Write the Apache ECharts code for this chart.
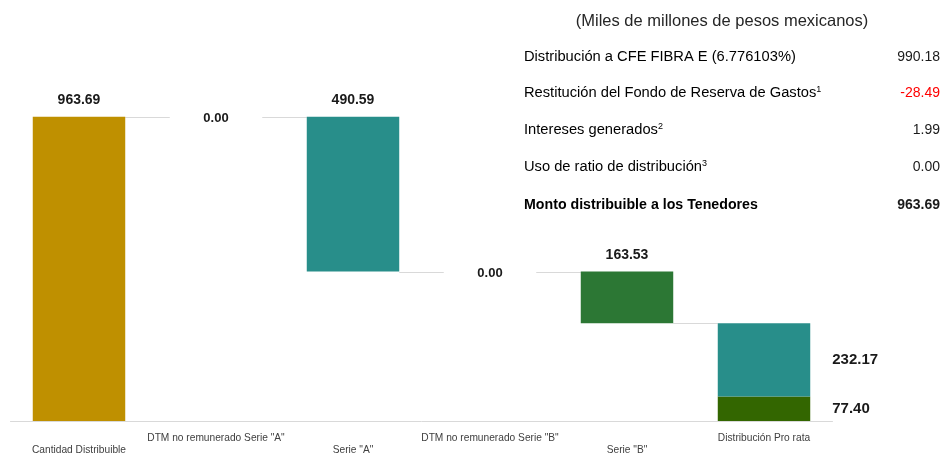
<!DOCTYPE html>
<html><head><meta charset="utf-8">
<script src="https://cdn.jsdelivr.net/npm/echarts@6/dist/echarts.min.js"></script>
<style>html,body{margin:0;padding:0;background:#fff}#c{width:942px;height:453px}</style>
</head><body><div id="c"></div>
<script>
const categories = ['Cantidad Distribuible', 'DTM no remunerado Serie "A"', 'Serie "A"', 'DTM no remunerado Serie "B"', 'Serie "B"', 'Distribución Pro rata'];
const stepValues = [963.69, 0.00, 490.59, 0.00, 163.53];
const proRataSerieA = 232.17;
const proRataSerieB = 77.40;
const tableTitle = '(Miles de millones de pesos mexicanos)';
const tableLabels = ['Distribución a CFE FIBRA E (6.776103%)', 'Restitución del Fondo de Reserva de Gastos', 'Intereses generados', 'Uso de ratio de distribución', 'Monto distribuible a los Tenedores'];
const tableSups = ['', '1', '2', '3', ''];
const tableValues = ['990.18', '-28.49', '1.99', '0.00', '963.69'];

const GOLD = '#BF9000', TEAL = '#288E8A', GREEN = '#2C7734', DKGREEN = '#336600';
const stepColors = [GOLD, '#ffffff', TEAL, '#ffffff', GREEN];
const BAR_RATIO = 0.675;

// waterfall bases and connector levels
const bases = [];
const connectors = [];
let cur = 0;
stepValues.forEach((v, i) => {
  if (i === 0) { bases.push(0); cur = v; }
  else { cur = cur - v; bases.push(cur); }
  connectors.push([i, cur]);
});

const baseData = bases.concat([0]);
const mainData = stepValues.map((v, i) => {
  const zero = v === 0;
  return {
    value: v,
    itemStyle: { color: stepColors[i] },
    label: zero ? { position: 'inside', fontSize: 13, offset: [0, 2] } : { position: 'top', distance: 9, fontSize: 14 }
  };
}).concat(['-']);

const chart = echarts.init(document.getElementById('c'));
const labelFont = "'Liberation Sans', Arial, sans-serif";

const graphics = [{
  type: 'text', x: 722, y: 21,
  style: { text: tableTitle, fontSize: 16.5, fontFamily: labelFont, fill: '#262626', align: 'center', verticalAlign: 'middle' }
}];
const rowY = [57, 93, 130, 167, 205];
tableLabels.forEach((t, i) => {
  const bold = i === tableLabels.length - 1;
  graphics.push({
    type: 'text', x: 524, y: rowY[i],
    style: {
      text: tableSups[i] ? '{a|' + t + '}{s|' + tableSups[i] + '}' : '{a|' + t + '}',
      rich: {
        a: { fontSize: bold ? 14.2 : 14.7, fontFamily: labelFont, fontWeight: bold ? 'bold' : 'normal', color: '#1a1a1a' },
        s: { fontSize: 9, fontFamily: labelFont, color: '#1a1a1a', verticalAlign: 'top', padding: [0, 0, 6, 0] }
      },
      verticalAlign: 'middle', align: 'left'
    }
  });
  graphics.push({
    type: 'text', x: 940, y: rowY[i],
    style: {
      text: tableValues[i], fontSize: 14, fontFamily: labelFont, fontWeight: bold ? 'bold' : 'normal',
      fill: tableValues[i].startsWith('-') ? '#ff0000' : '#1a1a1a', align: 'right', verticalAlign: 'middle'
    }
  });
});

chart.setOption({
  animation: false,
  grid: { left: 10.5, right: 109.5, top: 42, bottom: 32, outerBoundsMode: 'none', containLabel: false },
  xAxis: {
    type: 'category', data: categories,
    axisLine: { lineStyle: { color: '#d9d9d9' } },
    axisTick: { show: false },
    axisLabel: {
      interval: 0, margin: 11, color: '#404040',
      fontFamily: labelFont, fontSize: 10.2, lineHeight: 12,
      formatter: (v, i) => (i % 2 === 0 ? '\n' + v : v)
    }
  },
  yAxis: { type: 'value', min: 0, max: 1200, show: false, splitLine: { show: false } },
  graphic: graphics,
  series: [
    {
      type: 'custom', z: 1, silent: true,
      data: connectors,
      renderItem: (params, api) => {
        const i = api.value(0), lvl = api.value(1);
        const p = api.coord([i, lvl]);
        const w = api.size([1, 0])[0];
        const half = w * BAR_RATIO / 2;
        return {
          type: 'line',
          shape: { x1: p[0] + half, y1: Math.round(p[1]) + 0.5, x2: p[0] + w - half, y2: Math.round(p[1]) + 0.5 },
          style: { stroke: '#d9d9d9', lineWidth: 1 }
        };
      }
    },
    { type: 'bar', stack: 'w', data: baseData, barWidth: (BAR_RATIO * 100) + '%', itemStyle: { color: 'transparent' }, silent: true, z: 2 },
    {
      type: 'bar', stack: 'w', data: mainData, barWidth: (BAR_RATIO * 100) + '%', z: 3,
      label: { show: true, color: '#1a1a1a', fontWeight: 'bold', fontFamily: labelFont, formatter: p => Number(p.value).toFixed(2) }
    },
    {
      type: 'bar', stack: 'w', barWidth: (BAR_RATIO * 100) + '%', z: 3,
      data: ['-', '-', '-', '-', '-', proRataSerieB], itemStyle: { color: DKGREEN },
      label: { show: true, position: 'right', distance: 22, color: '#1a1a1a', fontWeight: 'bold', fontSize: 15, fontFamily: labelFont, formatter: p => Number(p.value).toFixed(2) }
    },
    {
      type: 'bar', stack: 'w', barWidth: (BAR_RATIO * 100) + '%', z: 3,
      data: ['-', '-', '-', '-', '-', proRataSerieA], itemStyle: { color: TEAL },
      label: { show: true, position: 'right', distance: 22, color: '#1a1a1a', fontWeight: 'bold', fontSize: 15, fontFamily: labelFont, formatter: p => Number(p.value).toFixed(2) }
    }
  ]
});
</script></body></html>
